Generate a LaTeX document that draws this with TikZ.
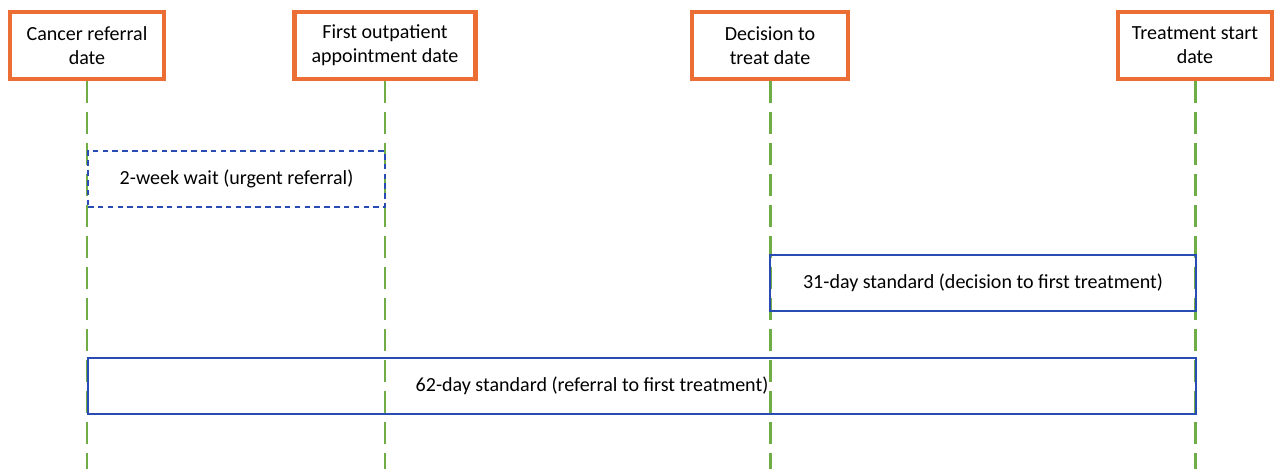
\documentclass[tikz,border=0pt]{standalone}
\usepackage{fontspec}
\setmainfont{Carlito}
\usetikzlibrary{positioning}
\definecolor{boxorange}{RGB}{237,110,52}
\definecolor{lifegreen}{RGB}{112,173,71}
\definecolor{periodblue}{RGB}{40,75,180}
\tikzstyle{datebox} = [rectangle, draw=boxorange, line width=2.4pt, fill=white, minimum height=1.34cm, align=center, inner sep=2pt]
\tikzstyle{lifeline} = [lifegreen, line width=1.7pt, dash pattern=on 0.44cm off 0.18cm]
\tikzstyle{period} = [rectangle, draw=periodblue, line width=0.9pt, minimum height=1.12cm, inner sep=0]
\tikzstyle{urgent} = [period, dash pattern=on 3.2pt off 2.4pt]

\begin{document}
\begin{tikzpicture}[font=\fontsize{11.4}{13.7}\selectfont]
\useasboundingbox (0,0) rectangle (25.52,-9.38);
\coordinate (bottom) at (0,-9.38);

% date boxes
\node[datebox, minimum width=3.08cm] (ref) at (1.74,-0.91) {Cancer referral\\date};
\node[datebox, minimum width=3.62cm] (opa) at (7.70,-0.91) {First outpatient\\appointment date};
\node[datebox, minimum width=3.12cm] (dtt) at (15.40,-0.91) {Decision to\\treat date};
\node[datebox, minimum width=3.08cm] (tsd) at (23.90,-0.91) {Treatment start\\date};

\foreach \n in {ref,opa,dtt,tsd}{
\draw[lifeline] (\n.south) -- (\n.south |- bottom);
}

% waiting periods
\node[urgent, minimum width=5.94cm] (wait) at (4.73,-3.58) {2-week wait (urgent referral)};
\node[period, minimum width=8.52cm] (std31) at (19.66,-5.66) {31-day standard (decision to first treatment)};
\node[period, minimum width=22.16cm] (std62) at (12.84,-7.72) {};
\node (std62txt) at ([xshift=-1cm]std62.center) {62-day standard (referral to first treatment)};

\end{tikzpicture}
\end{document}
